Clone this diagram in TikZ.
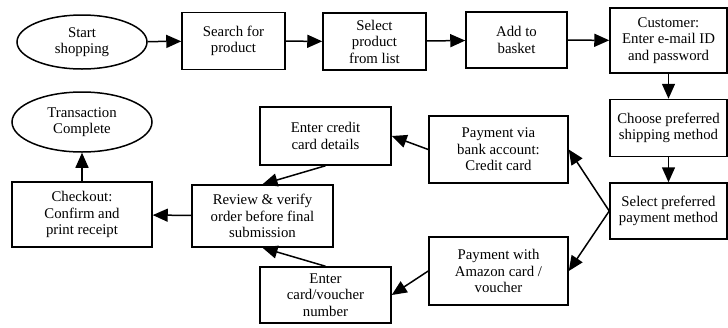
\documentclass[tikz,border=0pt]{standalone}
\usepackage{fontspec}
\setmainfont{Liberation Serif}
\usepackage{xcolor}
\usepackage{tikz}
\usetikzlibrary{arrows.meta,shapes.geometric}

\begin{document}
\begin{tikzpicture}[x=1pt,y=-1pt,
    box/.style={draw,line width=1.5pt,align=center,inner sep=1pt,
        font=\fontsize{14.8}{16.5}\selectfont},
    oval/.style={box,ellipse},
    flow/.style={line width=1.5pt,-{Triangle[length=15pt,width=13pt]}}]
    \useasboundingbox (0,0) rectangle (728,327);

    % Top row
    \node[oval,minimum width=130pt,minimum height=54pt] (start) at (82,42) {Start\\shopping};
    \node[box,minimum width=103pt,minimum height=57pt] (search) at (233.5,41) {Search for\\product};
    \node[box,minimum width=103pt,minimum height=57pt] (pick) at (374.5,41.5) {Select\\product\\from list};
    \node[box,minimum width=101pt,minimum height=56pt] (basket) at (516.5,40) {Add to\\basket};
    \node[box,minimum width=117pt,minimum height=65pt] (login) at (668.5,40.5) {Customer:\\Enter e-mail ID\\and password};

    % Right column
    \node[box,minimum width=117pt,minimum height=57pt] (ship) at (668.5,128) {Choose preferred\\shipping method};
    \node[box,minimum width=117pt,minimum height=56pt] (pay) at (668.5,211) {Select preferred\\payment method};

    % Payment options
    \node[box,minimum width=139pt,minimum height=67pt] (bank) at (498.5,149.5) {Payment via\\bank account:\\Credit card};
    \node[box,minimum width=139pt,minimum height=68pt] (amazon) at (498.5,271) {Payment with\\Amazon card /\\voucher};
    \node[box,minimum width=131pt,minimum height=58pt] (credit) at (325.5,136) {Enter credit\\card details};
    \node[box,minimum width=131pt,minimum height=56pt] (voucher) at (325.5,295) {Enter\\card/voucher\\number};

    % Finish
    \node[box,minimum width=141pt,minimum height=62pt] (review) at (262.5,216) {Review \& verify\\order before final\\submission};
    \node[box,minimum width=140pt,minimum height=65pt] (checkout) at (82,214.5) {Checkout:\\Confirm and\\print receipt};
    \node[oval,minimum width=140pt,minimum height=60pt] (done) at (82,122) {Transaction\\Complete};

    % Arrows
    \draw[flow] (start) -- (search);
    \draw[flow] (search) -- (pick);
    \draw[flow] (pick) -- (basket);
    \draw[flow] (basket) -- (login);
    \draw[flow] (login) -- (ship);
    \draw[flow] (ship) -- (pay);
    \draw[flow] (pay.west) -- (bank.east);
    \draw[flow] (pay.west) -- (amazon.east);
    \draw[flow] (bank.west) -- (credit.east);
    \draw[flow] (amazon.west) -- (voucher.east);
    \draw[flow] (credit.south) -- (review.north);
    \draw[flow] (voucher.north) -- (review.south);
    \draw[flow] (review) -- (checkout);
    \draw[flow] (checkout) -- (done);
\end{tikzpicture}
\end{document}
